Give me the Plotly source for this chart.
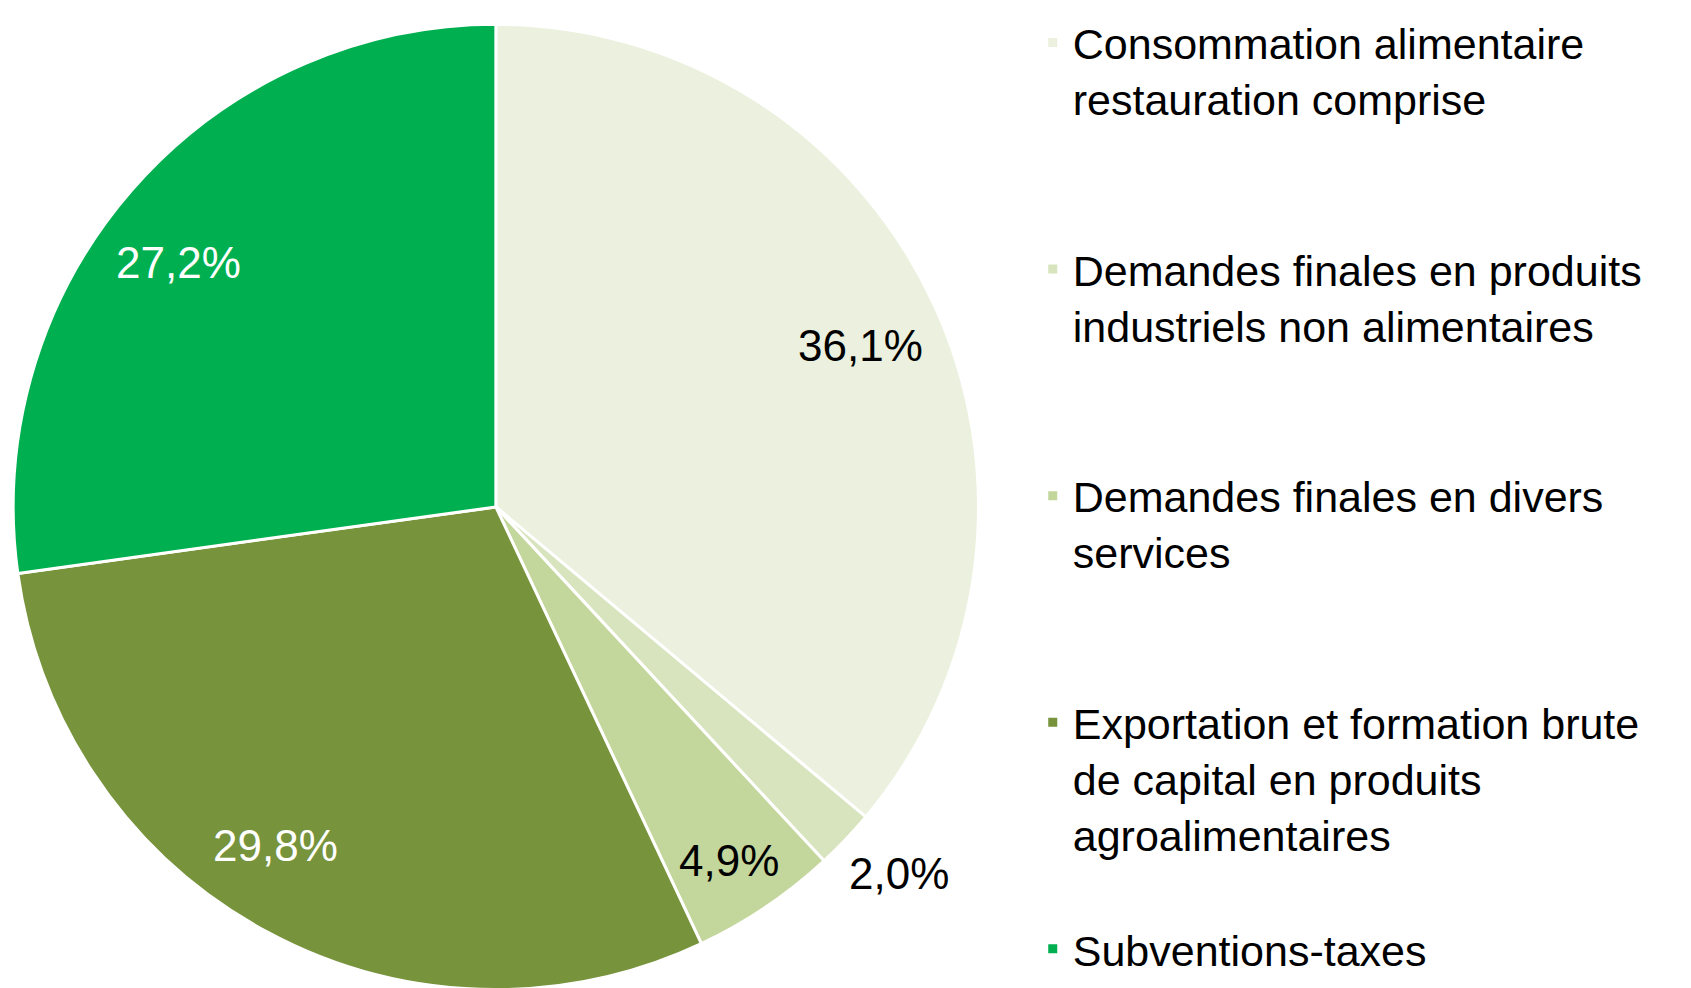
import math
import plotly.graph_objects as go

# Données
categories = [
    "Consommation alimentaire<br>restauration comprise",
    "Demandes finales en produits<br>industriels non alimentaires",
    "Demandes finales en divers<br>services",
    "Exportation et formation brute<br>de capital en produits<br>agroalimentaires",
    "Subventions-taxes",
]
valeurs = [36.1, 2.0, 4.9, 29.8, 27.2]
couleurs = ["#EBF1DE", "#D7E4BD", "#C3D69B", "#77933C", "#00B050"]
couleurs_texte = ["black", "black", "black", "white", "white"]
# placement des étiquettes : fraction du rayon et petit décalage angulaire (degrés)
pos_etiquettes = [0.827, 1.129, 0.878, 0.838, 0.831]
decalage_angle = [1.1, -1.3, 0.6, 4.6, -3.4]

W, H = 1691, 988
dom_x = [0.003, 0.574]
dom_y = [0.0065, 0.9835]

# légende : entrées complétées à 4 lignes pour un espacement régulier
def padder(txt, n=4):
    lignes = txt.count("<br>") + 1
    return txt + "<br> " * max(n - lignes, 0)

legendes = [padder(c) for c in categories[:-1]] + [categories[-1]]

fig = go.Figure()
fig.add_trace(go.Pie(
    labels=legendes,
    values=valeurs,
    sort=False,
    direction="clockwise",
    rotation=0,
    marker=dict(colors=couleurs, line=dict(color="white", width=3)),
    textinfo="none",
    hoverinfo="label+percent",
    domain=dict(x=dom_x, y=dom_y),
))

# étiquettes de pourcentage, placées à partir des valeurs
total = sum(valeurs)
cx = (dom_x[0] + dom_x[1]) / 2
cy = (dom_y[0] + dom_y[1]) / 2
r_px = min((dom_x[1] - dom_x[0]) * W, (dom_y[1] - dom_y[0]) * H) / 2
cumul = 0
for v, col, f, d in zip(valeurs, couleurs_texte, pos_etiquettes, decalage_angle):
    ang = 2 * math.pi * (cumul + v / 2) / total + math.radians(d)
    cumul += v
    fig.add_annotation(
        x=cx + r_px * f * math.sin(ang) / W,
        y=cy + r_px * f * math.cos(ang) / H,
        xref="paper", yref="paper",
        xanchor="center", yanchor="middle",
        text=f"{v:.1f}".replace(".", ",") + "%",
        showarrow=False,
        font=dict(family="Liberation Sans, Arial, sans-serif", size=44, color=col),
    )

fig.update_layout(
    width=W, height=H,
    margin=dict(l=0, r=0, t=0, b=0),
    paper_bgcolor="white",
    plot_bgcolor="white",
    font=dict(family="Liberation Sans, Arial, sans-serif", size=43, color="black"),
    legend=dict(
        x=0.606, y=1.0, xanchor="left", yanchor="top",
        valign="top",
        font=dict(size=43),
        bgcolor="rgba(0,0,0,0)",
    ),
)

fig.write_html("out.html")
